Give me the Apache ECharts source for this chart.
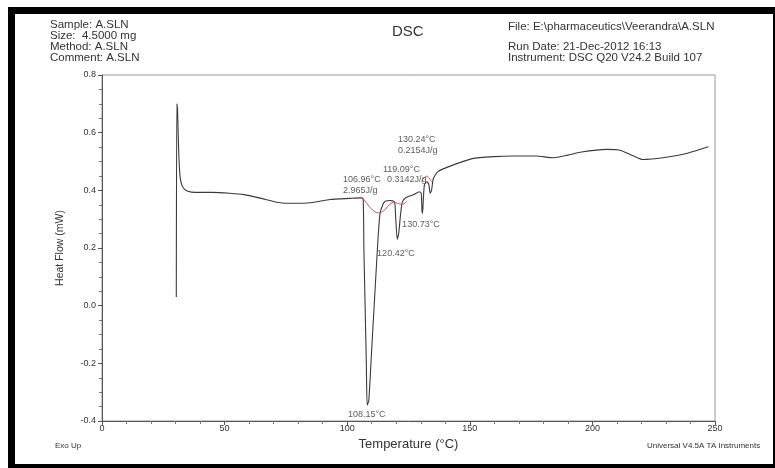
<!DOCTYPE html>
<html><head><meta charset="utf-8">
<script src="https://cdn.jsdelivr.net/npm/echarts@6/dist/echarts.min.js"></script>
<style>html,body{margin:0;padding:0;background:#fff}#c{width:775px;height:468px}</style>
</head><body><div id="c"></div>
<script>
// Temperature (°C) and heat flow (mW) of the DSC trace
var temps = [30.3,30.5,30.8,31.0,31.3,31.8,32.5,33.5,35,38,45,52,58,65,72,77,85,93,101,105.5,106.5,106.8,107.3,107.8,108.15,108.8,110,111,112,112.7,113.4,114.5,115.5,117.5,119.3,119.8,120.42,121,121.8,122.5,124,127,129.5,130.2,130.5,130.73,131,131.5,132.5,133.3,133.8,134.4,135.1,137,142,151,160,167.7,177,184,190,195,205.8,211,216.6,220.6,228.8,238.4,247.3];
var heatFlow = [0.03,0.70,0.68,0.62,0.53,0.45,0.42,0.405,0.397,0.393,0.393,0.39,0.385,0.372,0.358,0.355,0.357,0.368,0.372,0.374,0.37,0.2,0.0,-0.2,-0.345,-0.33,-0.15,0.0,0.15,0.25,0.32,0.35,0.362,0.365,0.36,0.3,0.23,0.25,0.32,0.36,0.375,0.385,0.395,0.39,0.33,0.32,0.36,0.42,0.43,0.42,0.39,0.40,0.44,0.465,0.484,0.51,0.517,0.519,0.519,0.513,0.522,0.532,0.542,0.54,0.52,0.507,0.513,0.528,0.551];
// Integration baselines (red)
var base1T = [105.9,108,110,112.7,115,117,118.8,120.5,122.2,124.2];
var base1HF = [0.378,0.355,0.335,0.322,0.33,0.348,0.357,0.355,0.351,0.362];
var base2T = [130.3,131.3,132.4,133.4,134.4];
var base2HF = [0.43,0.443,0.449,0.443,0.43];
// Annotation texts and anchor (temperature, heat flow)
var noteText = ['130.24°C\n0.2154J/g','119.09°C','106.96°C\n2.965J/g','0.3142J/g','130.73°C','120.42°C','108.15°C'];
var noteT = [120.7,114.6,98.3,116.2,122.4,112.2,100.3];
var noteHF = [0.594,0.493,0.455,0.455,0.299,0.201,-0.357];
// Axis ticks
var xTicks = [0,50,100,150,200,250];
var yTicks = [-0.4,-0.2,0.0,0.2,0.4,0.6,0.8];

var trace = temps.map(function(t,i){return [t,heatFlow[i]];});
var b1 = base1T.map(function(t,i){return [t,base1HF[i]];});
var b2 = base2T.map(function(t,i){return [t,base2HF[i]];});
var notes = noteT.map(function(t,i){return [t,noteHF[i],noteText[i]];});

var F = 'Liberation Sans, Arial, sans-serif';
var chart = echarts.init(document.getElementById('c'),null,{renderer:'canvas'});
chart.setOption({
  backgroundColor:'#fff',
  animation:false,
  grid:{left:102,right:60,top:75,bottom:47,show:true,borderColor:'#999',borderWidth:1,backgroundColor:'transparent'},
  xAxis:{type:'value',min:xTicks[0],max:xTicks[xTicks.length-1],interval:50,
    name:'Temperature (°C)',nameLocation:'middle',nameGap:15,
    nameTextStyle:{fontFamily:F,fontSize:13,color:'#333'},
    axisLine:{onZero:false,lineStyle:{color:'#555',width:1}},
    axisTick:{show:true,inside:false,length:4,lineStyle:{color:'#555'}},
    minorTick:{show:true,splitNumber:5,length:3,lineStyle:{color:'#777'}},
    axisLabel:{fontFamily:F,fontSize:9,color:'#333',margin:3},
    splitLine:{show:false}},
  yAxis:{type:'value',min:yTicks[0],max:yTicks[yTicks.length-1],interval:0.2,
    name:'Heat Flow (mW)',nameLocation:'middle',nameGap:36,nameRotate:90,
    nameTextStyle:{fontFamily:F,fontSize:10.5,color:'#333'},
    axisLine:{show:true,onZero:false,lineStyle:{color:'#555',width:1}},
    axisTick:{show:true,length:4,lineStyle:{color:'#555'}},
    minorTick:{show:true,splitNumber:4,length:3,lineStyle:{color:'#777'}},
    axisLabel:{fontFamily:F,fontSize:9,color:'#333',margin:6,
      formatter:function(v){return v.toFixed(1);}},
    splitLine:{show:false}},
  series:[
    {type:'line',data:trace,showSymbol:false,smooth:0.2,lineStyle:{color:'#3a3a3a',width:1.1},z:3},
    {type:'line',data:b1,showSymbol:false,smooth:true,lineStyle:{color:'#d05050',width:1},z:4},
    {type:'line',data:b2,showSymbol:false,smooth:true,lineStyle:{color:'#d05050',width:1},z:4},
    {type:'scatter',data:notes,symbolSize:0,z:5,
      label:{show:true,position:'inside',align:'left',verticalAlign:'top',
        fontFamily:F,fontSize:9,color:'#333',lineHeight:11,
        formatter:function(p){return p.value[2];}}}
  ],
  graphic:[
    {type:'rect',shape:{x:8,y:7,width:775,height:470},style:{fill:'#000'},z:-10,silent:true},
    {type:'rect',shape:{x:15,y:14,width:758,height:450},style:{fill:'#fff'},z:-9,silent:true},
    {type:'text',left:50,top:19,style:{text:'Sample: A.SLN\nSize:  4.5000 mg\nMethod: A.SLN\nComment: A.SLN',font:'11.5px '+F,fill:'#333',lineHeight:11}},
    {type:'text',left:392,top:24,style:{text:'DSC',font:'15px '+F,fill:'#333'}},
    {type:'text',left:508,top:21,style:{text:'File: E:\\pharmaceutics\\Veerandra\\A.SLN',font:'11.5px '+F,fill:'#333'}},
    {type:'text',left:508,top:41,style:{text:'Run Date: 21-Dec-2012 16:13\nInstrument: DSC Q20 V24.2 Build 107',font:'11.5px '+F,fill:'#333',lineHeight:11}},
    {type:'text',left:55,top:442,style:{text:'Exo Up',font:'8px '+F,fill:'#333'}},
    {type:'text',left:647,top:442,style:{text:'Universal V4.5A TA Instruments',font:'8px '+F,fill:'#333'}}
  ]
});
</script></body></html>
